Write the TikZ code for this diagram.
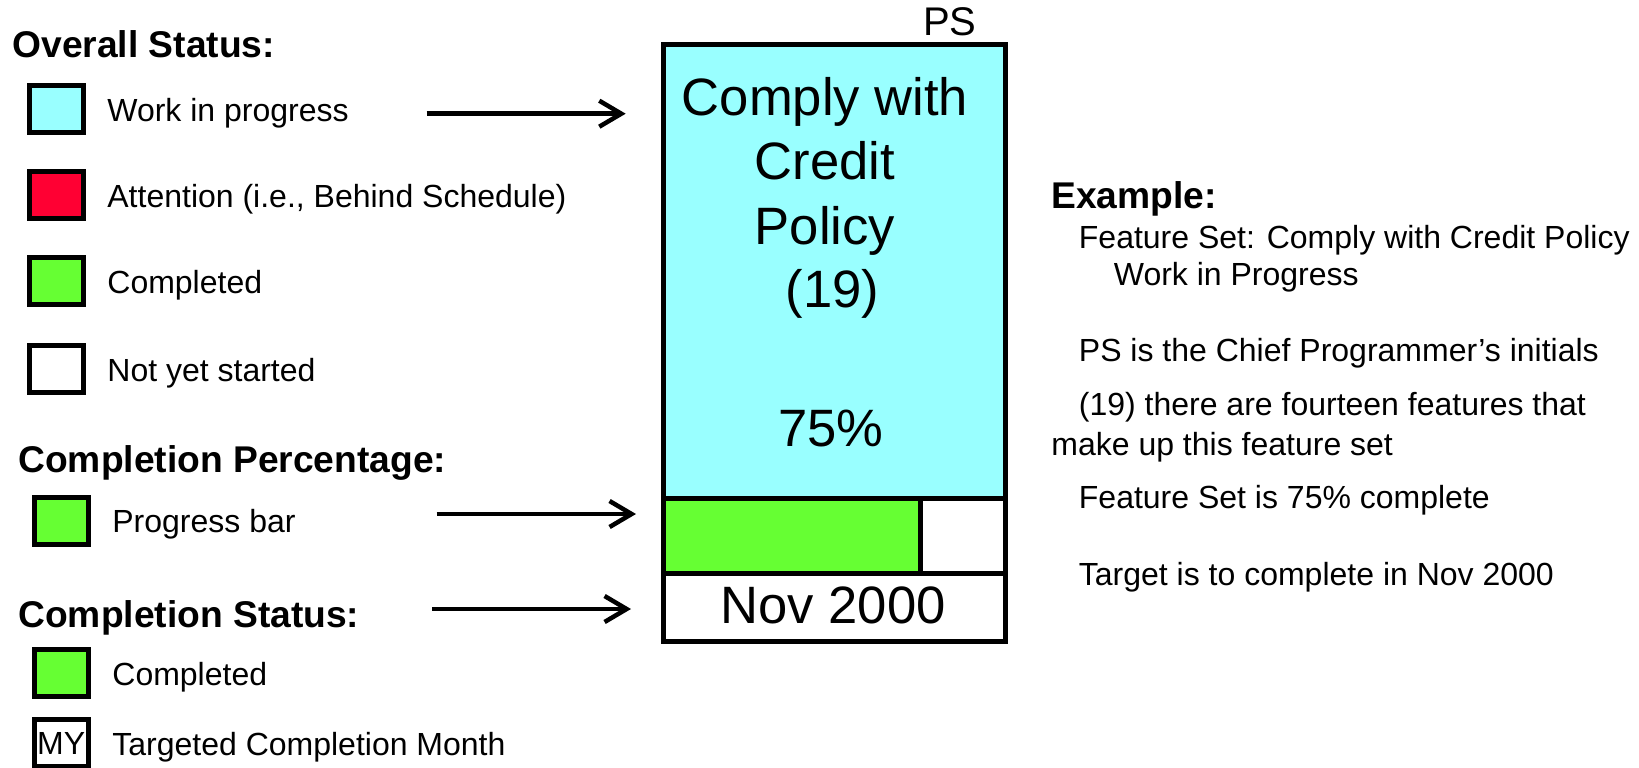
\documentclass[tikz,border=0pt]{standalone}
\usepackage{fontspec}
\setmainfont{Liberation Sans}
\usetikzlibrary{arrows.meta}

\newlength{\du}
\setlength{\du}{0.5pt}

\definecolor{wipcyan}{rgb}{0.600000, 1.000000, 1.000000}
\definecolor{attnred}{rgb}{1.000000, 0.000000, 0.200000}
\definecolor{donegreen}{rgb}{0.400000, 1.000000, 0.200000}

\tikzset{
  legbox/.style={draw=black, line width=5\du, minimum width=54\du, minimum height=47\du, inner sep=0pt},
  legtext/.style={anchor=base west, inner sep=0pt, font=\fontsize{16}{19}\selectfont},
  headtext/.style={anchor=base west, inner sep=0pt, font=\fontsize{18.6}{22}\selectfont\bfseries},
  bigtext/.style={anchor=base, inner sep=0pt, font=\fontsize{26.3}{31}\selectfont},
  fspart/.style={draw=black, line width=5\du, inner sep=0pt, minimum width=342\du},
  pointer/.style={line width=4.5\du, -{Straight Barb[length=11pt, width=13pt]}},
}

\begin{document}
\begin{tikzpicture}
\pgftransformyscale{-1.000000}
\useasboundingbox (0\du,0\du) rectangle (1639\du,767\du);
% overall status legend
\node[headtext] (ovhead) at (12\du,57\du) {Overall Status:};
\node[legbox, fill=wipcyan] (ovwip) at (56.8\du,109\du) {};
\node[legtext] (ovwiptxt) at (107\du,121\du) {Work in progress};
\node[legbox, fill=attnred] (ovattn) at (56.8\du,195\du) {};
\node[legtext] (ovattntxt) at (107\du,207\du) {Attention (i.e., Behind Schedule)};
\node[legbox, fill=donegreen] (ovdone) at (56.8\du,281.3\du) {};
\node[legtext] (ovdonetxt) at (107\du,293\du) {Completed};
\node[legbox, fill=white] (ovnew) at (56.8\du,369\du) {};
\node[legtext] (ovnewtxt) at (107\du,381\du) {Not yet started};
% completion percentage legend
\node[headtext] (pchead) at (18\du,472\du) {Completion Percentage:};
\node[legbox, fill=donegreen] (pcbar) at (61.2\du,521\du) {};
\node[legtext] (pcbartxt) at (112\du,532\du) {Progress bar};
% completion status legend
\node[headtext] (cshead) at (18\du,627\du) {Completion Status:};
\node[legbox, fill=donegreen] (csdone) at (61.2\du,673\du) {};
\node[legtext] (csdonetxt) at (112\du,685\du) {Completed};
\node[legbox, fill=white, font=\fontsize{16}{19}\selectfont] (csmonth) at (61.2\du,743\du) {MY};
\node[legtext] (csmonthtxt) at (112\du,755\du) {Targeted Completion Month};
% feature set box
\node[fspart, fill=wipcyan, minimum height=454\du] (fsbody) at (834.2\du,271.6\du) {};
\node[fspart, fill=white, minimum height=74.3\du] (fsbar) at (834.2\du,535.9\du) {};
\node[fspart, fill=donegreen, minimum width=256.8\du, minimum height=74.3\du, anchor=west] (fsdone) at (fsbar.west) {};
\node[fspart, fill=white, minimum height=68.5\du] (fsdate) at (834.2\du,607.3\du) {};
\node[anchor=base west, inner sep=0pt, font=\fontsize{20}{24}\selectfont] (fscp) at (922.7\du,35.8\du) {PS};
\node[bigtext] (fsname1) at (825\du,115.7\du) {Comply with};
\node[bigtext] (fsname2) at (825\du,179\du) {Credit};
\node[bigtext] (fsname3) at (825\du,244\du) {Policy};
\node[bigtext] (fscount) at (832.5\du,307\du) {(19)};
\node[bigtext] (fspct) at (831\du,446\du) {75\%};
\node[bigtext] (fsdatetxt) at (833\du,623\du) {Nov 2000};
% pointers
\coordinate (wiptail) at (426.5\du,113.7\du);
\coordinate (wiphead) at (625.7\du,113.7\du);
\coordinate (bartail) at (436.6\du,514\du);
\coordinate (barhead) at (636\du,514\du);
\coordinate (datetail) at (432\du,609\du);
\coordinate (datehead) at (631\du,609\du);
\draw[pointer] (wiptail) -- (wiphead);
\draw[pointer] (bartail) -- (barhead);
\draw[pointer] (datetail) -- (datehead);
% example text
\node[headtext] (exhead) at (1051\du,208.3\du) {Example:};
\node[legtext] (ex1) at (1078.5\du,248.3\du) {Feature Set: Comply with Credit Policy};
\node[legtext] (ex2) at (1113.5\du,285\du) {Work in Progress};
\node[legtext] (ex3) at (1078.5\du,361.7\du) {PS is the Chief Programmer’s initials};
\node[legtext] (ex4) at (1078.5\du,415\du) {(19) there are fourteen features that};
\node[legtext] (ex5) at (1051\du,455\du) {make up this feature set};
\node[legtext] (ex6) at (1078.5\du,508.3\du) {Feature Set is 75\% complete};
\node[legtext] (ex7) at (1078.5\du,585\du) {Target is to complete in Nov 2000};
\end{tikzpicture}
\end{document}
